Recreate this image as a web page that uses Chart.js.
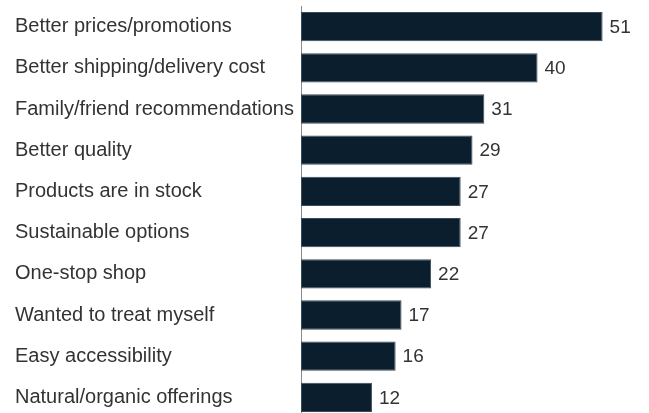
<!DOCTYPE html>
<html>
<head>
<meta charset="utf-8">
<script src="https://cdn.jsdelivr.net/npm/chart.js@4/dist/chart.umd.min.js"></script>
<style>
  html, body { margin: 0; padding: 0; background: #fff; overflow: hidden; }
  #wrap { width: 649px; height: 418px; }
</style>
</head>
<body>
<div id="wrap"><canvas id="chart" width="649" height="418"></canvas></div>
<script>
// reasons for switching, share of respondents (%)
const reasons = [
  "Better prices/promotions",
  "Better shipping/delivery cost",
  "Family/friend recommendations",
  "Better quality",
  "Products are in stock",
  "Sustainable options",
  "One-stop shop",
  "Wanted to treat myself",
  "Easy accessibility",
  "Natural/organic offerings"
];
const shares = [51, 40, 31, 29, 27, 27, 22, 17, 16, 12];

const FONT = "'Liberation Sans', Arial, sans-serif";

// value labels at the end of each bar
const valueLabels = {
  id: "valueLabels",
  afterDatasetsDraw(chart) {
    const ctx = chart.ctx;
    const meta = chart.getDatasetMeta(0);
    ctx.save();
    ctx.font = "19px " + FONT;
    ctx.fillStyle = "#333333";
    ctx.textAlign = "left";
    ctx.textBaseline = "middle";
    meta.data.forEach((bar, i) => {
      ctx.fillText(String(shares[i]), bar.x + 7, bar.y + 1);
    });
    ctx.restore();
  }
};

new Chart(document.getElementById("chart"), {
  type: "bar",
  data: {
    labels: reasons,
    datasets: [{
      data: shares,
      backgroundColor: "#0b1e2e",
      borderColor: "#3c4b58",
      borderWidth: 1,
      borderSkipped: false,
      barPercentage: 0.71,
      categoryPercentage: 1
    }]
  },
  options: {
    indexAxis: "y",
    responsive: false,
    animation: false,
    layout: { padding: { left: 15, right: 5, top: 6, bottom: 0 } },
    plugins: { legend: { display: false }, tooltip: { enabled: false } },
    scales: {
      x: { display: false, min: 0, max: 58 },
      y: {
        grid: { display: false, drawTicks: false },
        border: { display: true, color: "#8a8a8a", width: 1 },
        afterFit(scale) {
          scale.width = 286;
          scale.paddingTop = 0;
          scale.paddingBottom = 0;
        },
        ticks: {
          crossAlign: "far",
          padding: 0,
          color: "#333333",
          font: { family: FONT, size: 20 }
        }
      }
    }
  },
  plugins: [valueLabels]
});
</script>
</body>
</html>
